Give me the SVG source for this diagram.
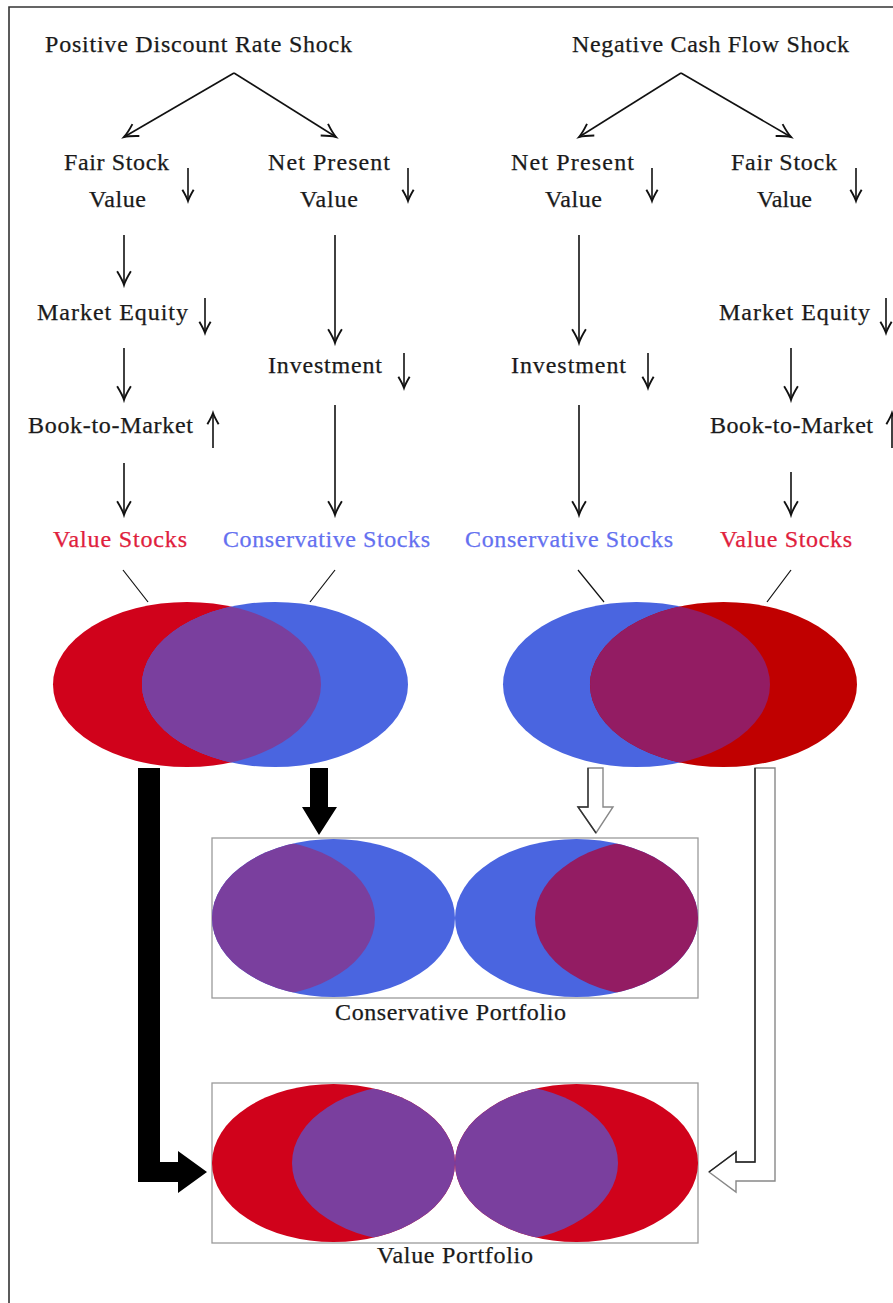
<svg xmlns="http://www.w3.org/2000/svg" width="893" height="1303" viewBox="0 0 893 1303">
<style>
.t{font-family:"Liberation Serif","Times New Roman",serif;font-size:24px;fill:#1a1a1a;stroke:#1a1a1a;stroke-width:0.25}
.red{fill:#e0203c;stroke:#e0203c}
.blue{fill:#6470f0;stroke:#6470f0}
.ar{stroke:#111;stroke-width:1.6;fill:none;marker-end:url(#tip)}
.sm{stroke:#111;stroke-width:1.6;fill:none;marker-end:url(#tip2)}
.ln{stroke:#111;stroke-width:1.2;fill:none}
.box{fill:none;stroke:#9a9a9a;stroke-width:1.3}
.R1{fill:#d0021b}
.R2{fill:#c00000}
.B{fill:#4a65e0}
.P{fill:#7a3f9e}
.C{fill:#931c63}
</style>
<defs>
<marker id="tip" markerUnits="userSpaceOnUse" markerWidth="20" markerHeight="20" viewBox="-12 -8 14 16" refX="0" refY="0" orient="auto" overflow="visible">
<path d="M-11,-5.5 Q-4,-1.2 0,0 Q-4,1.2 -11,5.5" stroke="#111" stroke-width="1.5" fill="none"/>
</marker>
<marker id="tip2" markerUnits="userSpaceOnUse" markerWidth="20" markerHeight="20" viewBox="-12 -8 14 16" refX="0" refY="0" orient="auto" overflow="visible">
<path d="M-9,-4.5 Q-3,-1 0,0 Q-3,1 -9,4.5" stroke="#111" stroke-width="1.5" fill="none"/>
</marker>
<clipPath id="c1"><ellipse cx="275" cy="684.5" rx="133" ry="82.5"/></clipPath>
<clipPath id="c2"><ellipse cx="723.5" cy="684.5" rx="133.5" ry="82.5"/></clipPath>
<clipPath id="c3"><ellipse cx="333.5" cy="918" rx="121.5" ry="79"/></clipPath>
<clipPath id="c4"><ellipse cx="576.5" cy="918" rx="121.5" ry="79"/></clipPath>
<clipPath id="c5"><ellipse cx="333.5" cy="1163" rx="121.5" ry="79"/></clipPath>
<clipPath id="c6"><ellipse cx="576.5" cy="1163" rx="121.5" ry="79"/></clipPath>
</defs>
<rect x="0" y="0" width="893" height="1303" fill="#fff"/>
<path d="M9,1303 V7 H893" fill="none" stroke="#333" stroke-width="1.6"/>

<g id="shock-dr"><text class="t" x="45" y="52" textLength="307" lengthAdjust="spacing">Positive Discount Rate Shock</text></g>
<g id="shock-cf"><text class="t" x="572" y="52" textLength="277" lengthAdjust="spacing">Negative Cash Flow Shock</text></g>

<g id="fsv-l"><text class="t" x="64" y="170" textLength="105" lengthAdjust="spacing">Fair Stock</text><text class="t" x="89" y="207" textLength="57" lengthAdjust="spacing">Value</text><line class="sm" x1="188" y1="168" x2="188" y2="201"/></g>
<g id="npv-l"><text class="t" x="268" y="170" textLength="122" lengthAdjust="spacing">Net Present</text><text class="t" x="300" y="207" textLength="58" lengthAdjust="spacing">Value</text><line class="sm" x1="408" y1="168" x2="408" y2="201"/></g>
<g id="npv-r"><text class="t" x="511" y="170" textLength="123" lengthAdjust="spacing">Net Present</text><text class="t" x="545" y="207" textLength="57" lengthAdjust="spacing">Value</text><line class="sm" x1="652" y1="168" x2="652" y2="201"/></g>
<g id="fsv-r"><text class="t" x="731" y="170" textLength="106" lengthAdjust="spacing">Fair Stock</text><text class="t" x="757" y="207" textLength="55" lengthAdjust="spacing">Value</text><line class="sm" x1="856" y1="168" x2="856" y2="201"/></g>

<g id="me-l"><text class="t" x="37" y="320" textLength="151" lengthAdjust="spacing">Market Equity</text><line class="sm" x1="205" y1="298" x2="205" y2="333"/></g>
<g id="me-r"><text class="t" x="719" y="320" textLength="151" lengthAdjust="spacing">Market Equity</text><line class="sm" x1="886" y1="298" x2="886" y2="333"/></g>
<g id="inv-l"><text class="t" x="268" y="373" textLength="114" lengthAdjust="spacing">Investment</text><line class="sm" x1="404" y1="353" x2="404" y2="388"/></g>
<g id="inv-r"><text class="t" x="511" y="373" textLength="115" lengthAdjust="spacing">Investment</text><line class="sm" x1="648" y1="353" x2="648" y2="388"/></g>
<g id="bm-l"><text class="t" x="28" y="433" textLength="165" lengthAdjust="spacing">Book-to-Market</text><line class="sm" x1="213" y1="448" x2="213" y2="413"/></g>
<g id="bm-r"><text class="t" x="710" y="433" textLength="163" lengthAdjust="spacing">Book-to-Market</text><line class="sm" x1="892" y1="448" x2="892" y2="413"/></g>

<g id="vs-l"><text class="t red" x="53" y="547" textLength="134" lengthAdjust="spacing">Value Stocks</text></g>
<g id="cs-l"><text class="t blue" x="223" y="547" textLength="207" lengthAdjust="spacing">Conservative Stocks</text></g>
<g id="cs-r"><text class="t blue" x="465" y="547" textLength="208" lengthAdjust="spacing">Conservative Stocks</text></g>
<g id="vs-r"><text class="t red" x="720" y="547" textLength="132" lengthAdjust="spacing">Value Stocks</text></g>

<g id="venn-l">
<ellipse class="R1" cx="187" cy="684.5" rx="134" ry="82.5"/>
<ellipse class="B" cx="275" cy="684.5" rx="133" ry="82.5"/>
<ellipse class="P" cx="187" cy="684.5" rx="134" ry="82.5" clip-path="url(#c1)"/>
</g>
<g id="venn-r">
<ellipse class="B" cx="636.5" cy="684.5" rx="133.5" ry="82.5"/>
<ellipse class="R2" cx="723.5" cy="684.5" rx="133.5" ry="82.5"/>
<ellipse class="C" cx="636.5" cy="684.5" rx="133.5" ry="82.5" clip-path="url(#c2)"/>
</g>

<g id="cons-portfolio">
<rect class="box" x="212" y="838" width="486" height="160"/>
<ellipse class="B" cx="333.5" cy="918" rx="121.5" ry="79"/>
<ellipse class="P" cx="253.5" cy="918" rx="121.5" ry="79" clip-path="url(#c3)"/>
<ellipse class="B" cx="576.5" cy="918" rx="121.5" ry="79"/>
<ellipse class="C" cx="656.5" cy="918" rx="121.5" ry="79" clip-path="url(#c4)"/>
<text class="t" x="335" y="1020" textLength="231" lengthAdjust="spacing">Conservative Portfolio</text>
</g>

<g id="value-portfolio">
<rect class="box" x="212" y="1083" width="486" height="160"/>
<ellipse class="R1" cx="333.5" cy="1163" rx="121.5" ry="79"/>
<ellipse class="P" cx="413.5" cy="1163" rx="121.5" ry="79" clip-path="url(#c5)"/>
<ellipse class="R1" cx="576.5" cy="1163" rx="121.5" ry="79"/>
<ellipse class="P" cx="496.5" cy="1163" rx="121.5" ry="79" clip-path="url(#c6)"/>
<text class="t" x="377" y="1263" textLength="156" lengthAdjust="spacing">Value Portfolio</text>
</g>

<g id="connectors">
<line class="ar" x1="234" y1="73" x2="124" y2="137"/>
<line class="ar" x1="234" y1="73" x2="336" y2="137"/>
<line class="ar" x1="681" y1="73" x2="579" y2="137"/>
<line class="ar" x1="681" y1="73" x2="791" y2="137"/>
<line class="ar" x1="124" y1="235" x2="124" y2="285"/>
<line class="ar" x1="124" y1="348" x2="124" y2="400"/>
<line class="ar" x1="124" y1="463" x2="124" y2="515"/>
<line class="ar" x1="335" y1="235" x2="335" y2="343"/>
<line class="ar" x1="335" y1="405" x2="335" y2="515"/>
<line class="ar" x1="579" y1="235" x2="579" y2="343"/>
<line class="ar" x1="579" y1="405" x2="579" y2="515"/>
<line class="ar" x1="791" y1="348" x2="791" y2="400"/>
<line class="ar" x1="791" y1="472" x2="791" y2="515"/>
<line class="ln" x1="123" y1="570" x2="148" y2="602"/>
<line class="ln" x1="335" y1="570" x2="310" y2="602"/>
<line class="ln" x1="578" y1="570" x2="604" y2="602"/>
<line class="ln" x1="791" y1="570" x2="767" y2="602"/>
<polygon points="138,768 160,768 160,1162 178,1162 178,1151 207,1172 178,1193 178,1182 138,1182" fill="#000"/>
<polygon points="310,768 328,768 328,807 337,807 319,835 302,807 310,807" fill="#000"/>
<polygon points="588,768 603,768 603,807 613,807 596,833 578,807 588,807" fill="#fff" stroke="#888" stroke-width="1.4"/>
<polyline points="588,768 588,807 578,807 596,833" fill="none" stroke="#333" stroke-width="1.4"/>
<polygon points="755,768 775,768 775,1181 736,1181 736,1192 709,1172 736,1152 736,1162 755,1162" fill="#fff" stroke="#888" stroke-width="1.4"/>
<polyline points="755,768 755,1162 736,1162 736,1152 709,1172" fill="none" stroke="#222" stroke-width="1.4"/>
</g>
</svg>
